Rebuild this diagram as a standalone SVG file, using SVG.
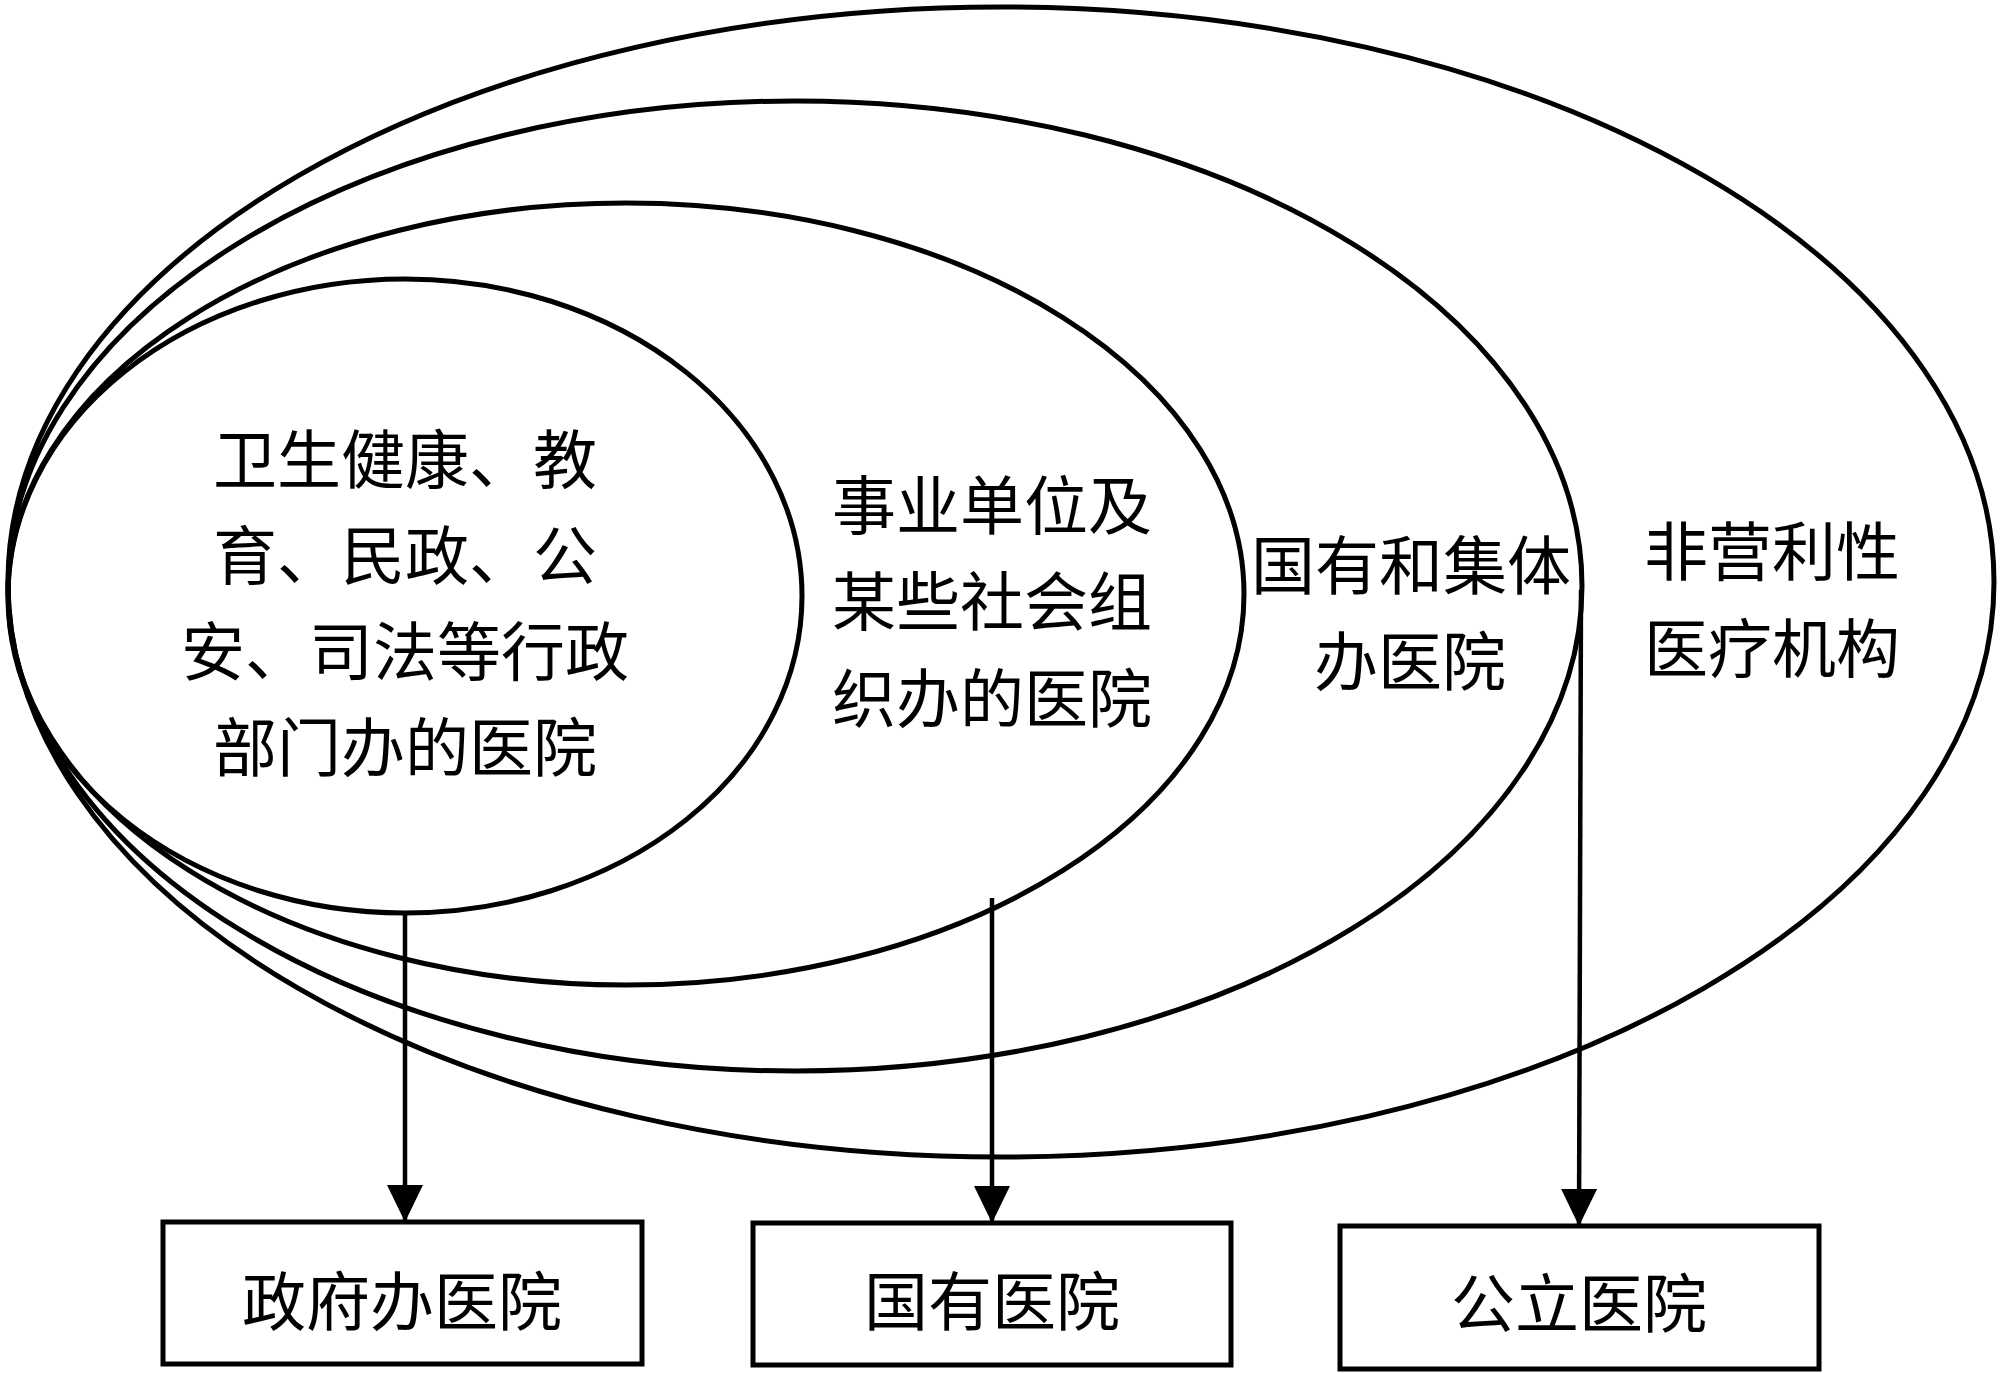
<svg xmlns="http://www.w3.org/2000/svg" width="2000" height="1373" viewBox="0 0 2000 1373">
<defs>
<style>
.ell{fill:none;stroke:#000;stroke-width:5}
.box{fill:#fff;stroke:#000;stroke-width:5}
.con{stroke:#000;stroke-width:4.5;fill:none}
.t{font-family:"Noto Sans CJK SC","Noto Sans CJK JP",sans-serif;font-size:64px;fill:#000;text-anchor:middle;dominant-baseline:central}
</style>
<marker id="arr" markerUnits="userSpaceOnUse" markerWidth="40" markerHeight="40" viewBox="0 0 40 40" refX="37" refY="18" orient="auto">
<path d="M0,0 L37,18 L0,36 Z" fill="#000"/>
</marker>
</defs>
<rect width="2000" height="1373" fill="#fff"/>
<g id="ellipse-nonprofit">
<ellipse class="ell" cx="1001" cy="582" rx="993" ry="575"/>
<text class="t" x="1772" y="547">非营利性</text>
<text class="t" x="1772" y="644">医疗机构</text>
</g>
<g id="ellipse-state-collective">
<ellipse class="ell" cx="795" cy="586" rx="787" ry="485"/>
<text class="t" x="1411" y="561">国有和集体</text>
<text class="t" x="1410" y="657">办医院</text>
</g>
<g id="ellipse-institution">
<ellipse class="ell" cx="626" cy="594" rx="618" ry="391"/>
<text class="t" x="992" y="501">事业单位及</text>
<text class="t" x="992" y="597">某些社会组</text>
<text class="t" x="992" y="694">织办的医院</text>
</g>
<g id="ellipse-government">
<ellipse class="ell" cx="405" cy="596" rx="397" ry="317"/>
<text class="t" x="405" y="455">卫生健康、教</text>
<text class="t" x="405" y="551">育、民政、公</text>
<text class="t" x="405" y="647">安、司法等行政</text>
<text class="t" x="405" y="743">部门办的医院</text>
</g>
<g id="connectors">
<line class="con" x1="405" y1="913" x2="405" y2="1222" marker-end="url(#arr)"/>
<line class="con" x1="992" y1="898" x2="992" y2="1223" marker-end="url(#arr)"/>
<line class="con" x1="1581" y1="590" x2="1579" y2="1226" marker-end="url(#arr)"/>
</g>
<g id="box-gov">
<rect class="box" x="163" y="1222" width="479" height="142"/>
<text class="t" x="402" y="1297">政府办医院</text>
</g>
<g id="box-state">
<rect class="box" x="753" y="1223" width="478" height="142"/>
<text class="t" x="992" y="1297">国有医院</text>
</g>
<g id="box-public">
<rect class="box" x="1340" y="1226" width="479" height="143"/>
<text class="t" x="1579" y="1299">公立医院</text>
</g>
</svg>
